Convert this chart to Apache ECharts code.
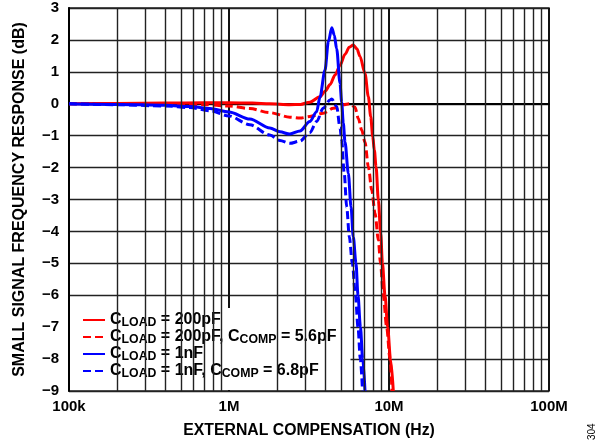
<!DOCTYPE html>
<html><head><meta charset="utf-8">
<script src="https://cdn.jsdelivr.net/npm/echarts@6/dist/echarts.min.js"></script>
<style>html,body{margin:0;padding:0;background:#fff}#c{width:605px;height:444px}</style>
</head><body><div id="c"></div>
<script>
// Frequencies in MHz, response in dB
const f200 = [0.1, 0.2, 0.4, 0.7, 1.0, 1.4, 1.8, 2.4, 2.8, 3.2, 3.7, 4.0, 4.28, 4.6, 4.94, 5.31, 5.65, 5.98, 6.3, 6.59, 7.08, 7.43, 7.69, 7.91, 8.1, 8.3, 8.58, 8.87, 9.1, 9.44, 9.81, 10.22, 10.64];
const db200 = [0.0, 0.01, 0.02, 0.03, 0.03, 0.02, 0.0, -0.03, -0.02, 0.05, 0.22, 0.4, 0.6, 0.9, 1.2, 1.55, 1.77, 1.84, 1.72, 1.48, 0.95, 0.22, -0.41, -1.03, -1.45, -1.97, -3.02, -4.06, -5.0, -6.0, -7.0, -8.0, -9.0];

const f200c = [0.1, 0.2, 0.4, 0.7, 1.0, 1.35, 1.8, 2.4, 2.78, 3.2, 3.88, 4.49, 5.18, 5.71, 6.13, 6.43, 6.75, 7.08, 7.43, 7.8, 8.18, 8.58, 8.85, 9.21, 9.67, 10.15, 10.44];
const db200c = [0.0, 0.0, -0.01, -0.03, -0.07, -0.15, -0.28, -0.42, -0.45, -0.4, -0.3, -0.14, -0.03, 0.0, -0.11, -0.46, -0.82, -1.2, -1.97, -2.7, -3.43, -4.27, -5.0, -6.0, -7.0, -8.0, -9.0];

const f1n = [0.1, 0.2, 0.4, 0.57, 0.76, 1.0, 1.35, 1.8, 2.08, 2.4, 2.78, 3.2, 3.53, 3.7, 3.98, 4.18, 4.39, 4.55, 4.71, 4.94, 5.06, 5.18, 5.31, 5.57, 5.79, 5.98, 6.22, 6.4, 6.63, 6.85, 7.08];
const db1n = [0.0, -0.02, -0.05, -0.09, -0.15, -0.26, -0.48, -0.76, -0.88, -0.95, -0.85, -0.56, -0.25, 0.2, 1.05, 1.95, 2.38, 2.15, 1.72, 0.64, 0.05, -0.6, -1.2, -2.18, -3.23, -4.17, -5.0, -6.0, -7.0, -8.0, -9.0];

const f1nc = [0.1, 0.2, 0.4, 0.57, 0.76, 1.0, 1.35, 1.8, 2.08, 2.4, 2.78, 3.2, 3.53, 3.88, 4.28, 4.39, 4.71, 4.94, 5.06, 5.25, 5.44, 5.65, 5.9, 6.17, 6.4, 6.62, 6.83];
const db1nc = [0.0, -0.03, -0.07, -0.12, -0.22, -0.38, -0.66, -0.98, -1.15, -1.24, -1.17, -0.9, -0.56, -0.14, 0.12, 0.15, -0.09, -0.75, -1.14, -2.18, -3.23, -4.17, -5.0, -6.0, -7.0, -8.0, -9.0];

const seriesNames = ['200pF', '200pF_comp', '1nF', '1nF_comp'];
const legendTexts = [
  '{a|C}{b|LOAD}{a| = 200pF}',
  '{a|C}{b|LOAD}{a| = 200pF, C}{b|COMP}{a| = 5.6pF}',
  '{a|C}{b|LOAD}{a| = 1nF}',
  '{a|C}{b|LOAD}{a| = 1nF, C}{b|COMP}{a| = 6.8pF}'
];
const xTickValues = [0.1, 1, 10, 100];
const xTickLabels = ['100k', '1M', '10M', '100M'];
const minorGrid = [0.2,0.3,0.4,0.5,0.6,0.7,0.8,0.9,2,3,4,5,6,7,8,9,20,30,40,50,60,70,80,90];

const FONT = 'Liberation Sans, Arial, sans-serif';
const zip = (a, b) => a.map((v, i) => [v, b[i]]);

function curve(name, f, d, color, dashed) {
  return {
    name: name, type: 'line', data: zip(f, d), symbol: 'none', smooth: 0.3,
    smoothMonotone: 'x', z: 3, animation: false,
    lineStyle: { color: color, width: 3, type: dashed ? [8, 4] : 'solid' },
    itemStyle: { color: color }
  };
}

const chart = echarts.init(document.getElementById('c'), null, { renderer: 'canvas' });
chart.setOption({
  animation: false,
  backgroundColor: '#fff',
  grid: { left: 69, right: 56, top: 8, bottom: 53, show: true, borderColor: '#222', borderWidth: 1.5, backgroundColor: 'transparent' },
  xAxis: {
    type: 'log', logBase: 10, min: 0.1, max: 100,
    name: 'EXTERNAL COMPENSATION (Hz)', nameLocation: 'middle', nameGap: 32,
    nameTextStyle: { fontFamily: FONT, fontWeight: 'bold', fontSize: 15.8, color: '#000' },
    axisLine: { lineStyle: { color: '#000', width: 2 } },
    axisTick: { show: false },
    axisLabel: { fontFamily: FONT, fontWeight: 'bold', fontSize: 15, color: '#000', margin: 8,
      formatter: v => { const i = xTickValues.findIndex(t => Math.abs(Math.log10(t) - Math.log10(v)) < 1e-6); return i >= 0 ? xTickLabels[i] : ''; } },
    splitLine: { show: true, lineStyle: { color: '#111', width: 2 } }
  },
  yAxis: {
    type: 'value', min: -9, max: 3, interval: 1,
    name: 'SMALL SIGNAL FREQUENCY RESPONSE (dB)', nameLocation: 'middle', nameGap: 41,
    nameTextStyle: { fontFamily: FONT, fontWeight: 'bold', fontSize: 16, color: '#000' },
    axisLine: { show: true, lineStyle: { color: '#000', width: 2 } },
    axisTick: { show: false },
    axisLabel: { fontFamily: FONT, fontWeight: 'bold', fontSize: 15, color: '#000', margin: 10,
      formatter: v => v < 0 ? '\u2212' + Math.abs(v) : String(v) },
    splitLine: { show: true, lineStyle: { color: '#222', width: 1.4 } }
  },
  legend: {
    orient: 'vertical', left: 70, top: 308,
    data: seriesNames,
    backgroundColor: '#fff', padding: [4, 14, 10, 12],
    itemWidth: 22, itemHeight: 14, itemGap: 0,
    itemStyle: { opacity: 0, borderWidth: 0 },
    formatter: name => legendTexts[seriesNames.indexOf(name)],
    textStyle: {
      color: '#000',
      rich: {
        a: { fontFamily: FONT, fontWeight: 'bold', fontSize: 16, color: '#000', lineHeight: 16, verticalAlign: 'top' },
        b: { fontFamily: FONT, fontWeight: 'bold', fontSize: 12.3, color: '#000', lineHeight: 12, padding: [5, 0, 0, 0], verticalAlign: 'top' }
      }
    }
  },
  graphic: [{
    type: 'text', x: 597, y: 440, rotation: Math.PI / 2,
    style: { text: '304', fontFamily: FONT, fontSize: 10, fill: '#000', textAlign: 'left', textVerticalAlign: 'bottom' }
  }],
  series: [
    {
      type: 'line', data: [], z: 1, silent: true, animation: false,
      markLine: {
        silent: true, symbol: ['none', 'none'], label: { show: false }, animation: false,
        lineStyle: { color: '#222', width: 1.4, type: 'solid' },
        data: minorGrid.map(v => ({ xAxis: v }))
      }
    },
    curve(seriesNames[0], f200, db200, '#ff0000', false),
    curve(seriesNames[1], f200c, db200c, '#ff0000', true),
    curve(seriesNames[2], f1n, db1n, '#0000ff', false),
    curve(seriesNames[3], f1nc, db1nc, '#0000ff', true)
  ]
});
</script></body></html>
